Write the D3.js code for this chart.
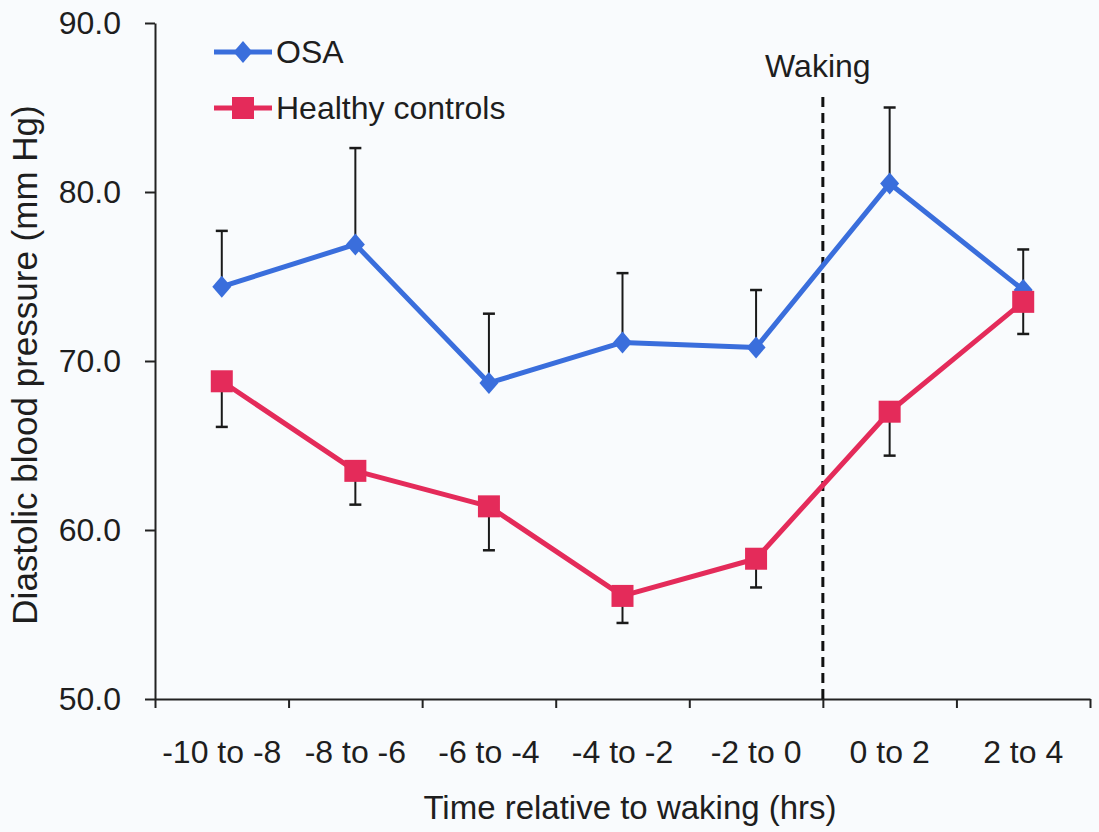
<!DOCTYPE html>
<html>
<head>
<meta charset="utf-8">
<script src="https://cdn.jsdelivr.net/npm/d3@7"></script>
<style>
  html, body { margin: 0; padding: 0; background: #f9fbfd; }
  svg { display: block; }
  text { font-family: "Liberation Sans", Arial, sans-serif; fill: #1e1e1e; }
</style>
</head>
<body>
<svg id="chart" width="1099" height="832"></svg>
<script>
// Time windows relative to waking
const categories = ["-10 to -8", "-8 to -6", "-6 to -4", "-4 to -2", "-2 to 0", "0 to 2", "2 to 4"];

// Diastolic blood pressure means (mm Hg) and standard errors
const osaMean = [74.4, 76.9, 68.7, 71.1, 70.8, 80.5, 74.2];
const osaSE = [3.3, 5.7, 4.1, 4.1, 3.4, 4.5, 2.4];
const healthyMean = [68.8, 63.5, 61.4, 56.1, 58.3, 67.0, 73.5];
const healthySE = [2.7, 2.0, 2.6, 1.6, 1.7, 2.6, 1.9];

const yTicks = [50, 60, 70, 80, 90];
const wakingAt = "0 to 2";

const colors = { osa: "#3a6edc", healthy: "#e42b5a" };

const svg = d3.select("#chart");

const plot = { left: 155, right: 1090, top: 23, bottom: 699 };

const x = d3.scaleBand().domain(categories).range([plot.left, plot.right]).paddingInner(0).paddingOuter(0);
const xEdge = d3.scaleLinear().domain([0, categories.length]).range([plot.left, plot.right]);
const y = d3.scaleLinear().domain([50, 90]).range([plot.bottom, plot.top]);

// Y axis
const yAxis = svg.append("g")
  .attr("transform", `translate(${plot.left},0)`)
  .call(d3.axisLeft(y).tickValues(yTicks).tickFormat(d3.format(".1f")).tickSize(10).tickSizeOuter(0).tickPadding(24));
yAxis.select(".domain").attr("stroke", "#222").attr("stroke-width", 2);
yAxis.selectAll(".tick line").attr("stroke", "#222").attr("stroke-width", 2);
yAxis.selectAll(".tick text").style("font-size", "32px").attr("fill", "#1e1e1e");

// X axis: boundary ticks between windows
const xTickAxis = svg.append("g")
  .attr("transform", `translate(0,${plot.bottom})`)
  .call(d3.axisBottom(xEdge).tickValues(d3.range(categories.length + 1)).tickFormat("").tickSize(9).tickSizeOuter(0));
xTickAxis.select(".domain").attr("stroke", "#222").attr("stroke-width", 2);
xTickAxis.selectAll(".tick line").attr("stroke", "#222").attr("stroke-width", 2);

// X axis: window labels
const xLabelAxis = svg.append("g")
  .attr("transform", `translate(0,${plot.bottom})`)
  .call(d3.axisBottom(x).tickSize(0).tickPadding(41));
xLabelAxis.select(".domain").remove();
xLabelAxis.selectAll(".tick text").style("font-size", "32px").attr("fill", "#1e1e1e");

// Axis titles
svg.append("text")
  .attr("x", 630).attr("y", 819)
  .attr("text-anchor", "middle")
  .style("font-size", "33px")
  .text("Time relative to waking (hrs)");

svg.append("text")
  .attr("transform", "translate(37,365) rotate(-90)")
  .attr("text-anchor", "middle")
  .style("font-size", "35px")
  .text("Diastolic blood pressure (mm Hg)");

// Waking marker
const wx = x(wakingAt);
svg.append("line")
  .attr("x1", wx).attr("x2", wx)
  .attr("y1", 97).attr("y2", plot.bottom)
  .attr("stroke", "#111").attr("stroke-width", 3)
  .attr("stroke-dasharray", "10,6");
svg.append("text")
  .attr("x", wx - 5).attr("y", 77)
  .attr("text-anchor", "middle")
  .style("font-size", "32px")
  .text("Waking");

const cx = d => x(d) + x.bandwidth() / 2;

function diamondPath(px, py, w, h) {
  const p = d3.path();
  p.moveTo(px, py - h / 2);
  p.lineTo(px + w / 2, py);
  p.lineTo(px, py + h / 2);
  p.lineTo(px - w / 2, py);
  p.closePath();
  return p.toString();
}

function errorBars(means, ses, dir) {
  const g = svg.append("g");
  categories.forEach((c, i) => {
    const y0 = y(means[i]);
    const y1 = y(means[i] + dir * ses[i]);
    g.append("line")
      .attr("x1", cx(c)).attr("x2", cx(c))
      .attr("y1", y0).attr("y2", y1)
      .attr("stroke", "#1a1a1a").attr("stroke-width", 2);
    g.append("line")
      .attr("x1", cx(c) - 6).attr("x2", cx(c) + 6)
      .attr("y1", y1).attr("y2", y1)
      .attr("stroke", "#1a1a1a").attr("stroke-width", 2.5);
  });
}

errorBars(osaMean, osaSE, 1);
errorBars(healthyMean, healthySE, -1);

const line = d3.line().x((d, i) => cx(categories[i])).y(d => y(d));

svg.append("path")
  .datum(osaMean)
  .attr("d", line)
  .attr("fill", "none")
  .attr("stroke", colors.osa)
  .attr("stroke-width", 5)
  .attr("stroke-linejoin", "round");

svg.append("path")
  .datum(healthyMean)
  .attr("d", line)
  .attr("fill", "none")
  .attr("stroke", colors.healthy)
  .attr("stroke-width", 5)
  .attr("stroke-linejoin", "round");

// Markers
svg.append("g").selectAll("path")
  .data(osaMean)
  .join("path")
  .attr("d", (d, i) => diamondPath(cx(categories[i]), y(d), 19, 22))
  .attr("fill", colors.osa);

const sq = 22;
svg.append("g").selectAll("rect")
  .data(healthyMean)
  .join("rect")
  .attr("x", (d, i) => cx(categories[i]) - sq / 2)
  .attr("y", d => y(d) - sq / 2)
  .attr("width", sq).attr("height", sq)
  .attr("fill", colors.healthy);

// Legend
const legend = [
  { name: "OSA", color: colors.osa, shape: "diamond", y: 52 },
  { name: "Healthy controls", color: colors.healthy, shape: "square", y: 108 }
];
legend.forEach(l => {
  svg.append("line")
    .attr("x1", 214).attr("x2", 272)
    .attr("y1", l.y).attr("y2", l.y)
    .attr("stroke", l.color).attr("stroke-width", 5);
  if (l.shape === "diamond") {
    svg.append("path").attr("d", diamondPath(243, l.y, 19, 22)).attr("fill", l.color);
  } else {
    svg.append("rect").attr("x", 232).attr("y", l.y - 11).attr("width", 22).attr("height", 22).attr("fill", l.color);
  }
  svg.append("text")
    .attr("x", 276).attr("y", l.y + 11)
    .style("font-size", "32px")
    .text(l.name);
});
</script>
</body>
</html>
